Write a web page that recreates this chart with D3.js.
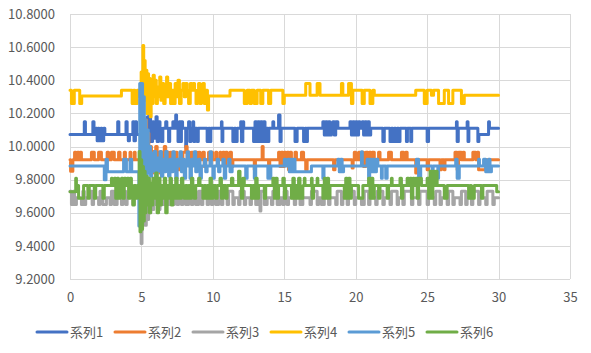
<!DOCTYPE html>
<html>
<head>
    <title></title>
    <meta charset="utf-8" />
    <style>
        body { margin: 0; background: #fff; }
        svg { display: block; }
        text { font-family: "Noto Sans CJK JP", "Noto Sans", sans-serif; }
    </style>
    <script src="https://d3js.org/d3.v7.min.js"></script>
</head>
<body>

<svg id="svg"></svg>

<script>

let seriesNames = ["系列1", "系列2", "系列3", "系列4", "系列5", "系列6"];
let colors = ["#4472C4", "#ED7D31", "#A5A5A5", "#FFC000", "#5B9BD5", "#70AD47"];

let xTicks = [0, 5, 10, 15, 20, 25, 30, 35];
let yTicks = [9.2, 9.4, 9.6, 9.8, 10.0, 10.2, 10.4, 10.6, 10.8];

// each series: [x, value] change points, the value holds until the next x
let s1 = [
    [0,10.073],[1.0,10.15],[1.08,10.073],[1.6,10.15],[1.68,10.073],[1.82,10.11],[1.9,10.035],[1.98,10.11],[2.04,10.035],
    [2.16,10.11],[2.24,10.035],[2.36,10.11],[2.44,10.073],[3.34,10.15],[3.42,10.073],[3.92,10.15],[4.0,10.073],[4.08,10.035],
    [4.16,10.073],[4.4,10.15],[4.48,10.035],[4.58,10.15],[4.66,10.073],
    [4.95,10.16],[5.02,10.05],[5.1,10.18],[5.18,10.03],[5.26,10.16],[5.34,10.05],[5.42,10.18],[5.5,10.03],[5.58,10.23],
    [5.64,10.11],[5.7,10.03],[5.78,10.15],[5.86,10.05],[5.94,10.11],[6.02,10.18],[6.1,10.03],[6.2,10.15],[6.3,10.11],
    [6.4,10.03],[6.5,10.11],[6.7,10.15],[6.78,10.11],[6.9,10.03],[6.98,10.11],[7.2,10.15],[7.28,10.11],[7.4,10.19],
    [7.46,10.11],[7.56,10.03],[7.64,10.15],[7.72,10.03],[7.8,10.15],[7.88,10.11],[8.1,9.995],[8.16,10.11],[8.3,10.15],
    [8.38,10.03],[8.46,10.11],[8.6,10.15],[8.66,10.03],[8.74,10.11],[8.9,10.03],[8.98,10.11],[9.6,10.03],[9.7,10.11],
    [9.78,10.03],[9.86,10.11],[10.6,10.15],[10.64,10.03],[10.7,10.11],[11.4,10.03],[11.5,10.11],[11.6,10.03],[11.7,10.11],
    [11.95,10.15],[12.0,10.03],[12.1,10.15],[12.16,10.11],
    [12.85,10.03],[12.95,10.15],[13.05,10.03],[13.15,10.15],[13.25,10.03],[13.35,10.15],[13.45,10.03],[13.55,10.15],
    [13.65,10.03],[13.75,10.11],[13.85,10.03],[13.92,10.11],[14.2,10.15],[14.26,10.11],[14.6,10.19],[14.7,10.03],[14.78,10.11],
    [15.75,10.03],[15.9,10.11],[16.35,10.03],[16.45,10.11],[16.55,10.03],[16.62,10.11],
    [17.7,10.15],[17.8,10.07],[17.9,10.15],[18.0,10.07],[18.1,10.15],[18.2,10.07],[18.3,10.11],[18.4,10.15],[18.5,10.07],
    [18.6,10.15],[18.75,10.11],
    [19.6,10.15],[19.7,10.07],[19.8,10.15],[19.9,10.07],[20.0,10.15],[20.1,10.07],[20.2,10.15],[20.3,10.11],[20.45,10.15],
    [20.55,10.07],[20.65,10.15],[20.75,10.07],[20.85,10.15],[20.95,10.07],[21.05,10.11],
    [21.9,10.03],[22.0,10.11],[22.4,10.03],[22.5,10.11],[22.6,10.03],[22.7,10.11],[22.8,10.03],[22.9,10.11],[23.0,10.03],
    [23.1,10.11],[23.55,10.03],[23.62,10.11],[23.85,10.03],[23.92,10.11],[25.0,10.03],[25.1,10.11],[27.05,10.15],[27.1,10.03],
    [27.18,10.11],[27.8,10.15],[27.86,10.03],[27.92,10.11],[28.55,10.03],[28.62,10.073],[29.3,10.15],[29.36,10.11],[30,10.11]
];

let s2 = [
    [0,9.92],[0.04,9.85],[0.2,9.92],[0.32,9.965],[0.42,9.92],[0.52,9.965],[0.62,9.92],[0.7,9.965],[0.8,9.92],[1.5,9.965],
    [1.7,9.92],[2.0,9.965],[2.2,9.92],[2.6,9.965],[2.7,9.92],[2.9,9.965],[3.1,9.92],[3.4,9.965],[3.5,9.92],[3.8,9.965],
    [3.88,9.92],[4.2,9.965],[4.26,9.92],[4.5,9.965],[4.56,9.92],
    [5.0,9.88],[5.1,9.98],[5.2,9.86],[5.3,10.16],[5.36,9.90],[5.44,10.08],[5.52,9.86],[5.6,10.0],[5.7,9.84],[5.8,9.97],
    [5.9,9.86],[6.0,10.0],[6.1,9.88],[6.2,9.965],[6.3,9.84],[6.4,9.965],[6.5,9.88],[6.6,10.0],[6.7,9.86],[6.8,9.965],
    [6.9,9.92],[7.0,9.965],[7.1,9.86],[7.2,9.965],[7.3,9.88],[7.4,9.965],[7.5,9.92],[7.6,9.86],[7.7,9.92],[7.9,9.965],
    [8.1,10.0],[8.2,9.92],[8.3,9.965],[8.4,9.88],[8.5,9.965],[8.6,9.92],[8.8,9.965],[8.9,9.88],[9.0,9.965],[9.1,9.92],
    [9.3,9.965],[9.4,9.88],[9.5,9.92],[9.7,9.965],[9.78,9.92],[9.9,9.965],[9.98,9.92],[10.2,9.965],[10.28,9.92],[10.5,9.965],
    [10.56,9.92],[10.7,9.965],[10.8,9.88],[10.9,9.965],[11.0,9.92],[11.2,9.965],[11.3,9.88],[11.4,9.92],
    [12.9,9.86],[12.98,9.92],[13.45,10.0],[13.52,9.92],[13.9,9.84],[13.98,9.92],
    [14.6,9.965],[14.7,9.88],[14.8,9.965],[14.9,9.88],[15.0,9.965],[15.1,9.92],[15.2,9.965],[15.3,9.86],[15.4,9.965],
    [15.5,9.92],[15.75,9.965],[15.85,9.92],[16.2,9.965],[16.35,9.92],[16.5,9.86],[16.6,9.92],
    [18.45,9.86],[18.55,9.92],[19.75,9.87],[19.82,9.92],[19.9,9.965],[20.0,9.92],[20.2,9.965],[20.3,9.92],[20.5,9.965],
    [20.55,9.88],[20.7,9.965],[20.85,9.92],[20.95,9.965],[21.05,9.92],[21.15,9.965],[21.3,9.92],[21.6,9.965],[21.7,9.92],
    [22.3,9.965],[22.5,9.92],[23.2,9.965],[23.35,9.92],[23.5,9.965],[23.6,9.92],[24.2,9.84],[24.3,9.92],[25.0,9.86],
    [25.1,9.92],[25.9,9.86],[26.0,9.92],[26.2,9.86],[26.25,9.92],[26.95,9.965],[27.1,9.86],[27.2,9.965],[27.4,9.92],
    [27.5,9.965],[27.6,9.92],[28.2,9.965],[28.4,9.92],[28.5,9.965],[28.6,9.86],[29.1,9.92],[30,9.92]
];

let s3 = [
    [0,9.73],[0.1,9.65],[0.22,9.73],[0.32,9.65],[0.45,9.69],[0.8,9.65],[0.9,9.73],[1.0,9.65],[1.1,9.69],[1.45,9.73],
    [1.55,9.65],[1.65,9.69],[2.0,9.65],[2.1,9.73],[2.3,9.65],[2.55,9.69],[2.8,9.65],[2.9,9.73],[3.1,9.65],[3.3,9.73],
    [3.4,9.69],[3.6,9.65],[3.7,9.73],[3.9,9.65],[4.0,9.69],[4.4,9.65],[4.5,9.73],[4.7,9.69],
    [4.9,9.60],[4.98,9.415],[5.04,9.70],[5.1,9.54],[5.18,9.74],[5.26,9.525],[5.34,9.72],[5.42,9.56],[5.5,9.70],[5.58,9.60],
    [5.66,9.74],[5.76,9.62],[5.86,9.72],[5.96,9.65],[6.1,9.73],[6.2,9.62],[6.3,9.69],[6.4,9.65],[6.5,9.73],[6.6,9.65],
    [6.8,9.69],[6.9,9.65],[7.0,9.73],[7.2,9.65],[7.3,9.69],[7.5,9.65],[7.6,9.73],[7.8,9.65],[7.9,9.69],[8.1,9.65],
    [8.3,9.73],[8.5,9.65],[8.6,9.69],[8.8,9.65],[9.0,9.73],[9.2,9.65],[9.3,9.69],[9.6,9.65],[9.7,9.73],[9.9,9.65],
    [10.0,9.69],[10.2,9.65],[10.4,9.73],[10.6,9.65],[10.7,9.69],[11.0,9.65],[11.1,9.73],[11.4,9.65],[11.5,9.69],[11.8,9.65],
    [11.9,9.73],[12.2,9.65],[12.3,9.69],[12.6,9.65],[12.7,9.73],[13.0,9.65],[13.2,9.69],[13.3,9.61],[13.36,9.73],[13.6,9.65],
    [13.8,9.69],[14.1,9.65],[14.2,9.73],[14.5,9.65],[14.7,9.69],[14.9,9.65],[15.0,9.73],[15.2,9.65],[15.3,9.69],[15.7,9.65],
    [15.8,9.73],[16.1,9.65],[16.3,9.69],[16.8,9.65],[16.9,9.73],[17.3,9.65],[17.4,9.69],[17.6,9.65],[17.8,9.73],[18.1,9.65],
    [18.2,9.69],[18.6,9.65],[18.7,9.73],[19.0,9.65],[19.1,9.69],[19.4,9.65],[19.5,9.73],[19.9,9.65],[20.0,9.69],[20.4,9.65],
    [20.6,9.73],[20.9,9.65],[21.0,9.69],[21.4,9.65],[21.5,9.73],[21.9,9.65],[22.0,9.69],[22.4,9.65],[22.5,9.73],[22.9,9.65],
    [23.0,9.69],[23.3,9.65],[23.4,9.73],[23.9,9.65],[24.0,9.69],[24.4,9.65],[24.5,9.73],[25.0,9.65],[25.1,9.69],[25.5,9.65],
    [25.6,9.73],[25.9,9.65],[26.0,9.69],[26.4,9.65],[26.5,9.73],[26.8,9.65],[26.9,9.69],[27.3,9.65],[27.4,9.73],[27.7,9.65],
    [27.8,9.69],[28.1,9.65],[28.2,9.73],[28.6,9.65],[28.7,9.69],[29.1,9.65],[29.2,9.73],[29.6,9.65],[29.7,9.69],[30,9.69]
];

let s4 = [
    [0,10.34],[0.1,10.26],[0.3,10.34],[0.68,10.26],[0.82,10.305],[3.6,10.34],[4.35,10.26],[4.45,10.34],[4.55,10.26],[4.7,10.34],
    [4.9,10.30],[4.98,10.45],[5.04,10.22],[5.1,10.61],[5.16,10.35],[5.2,10.52],[5.26,10.28],[5.32,10.46],[5.38,10.20],
    [5.44,10.44],[5.5,10.24],[5.56,10.41],[5.62,10.18],[5.68,10.38],[5.76,10.26],[5.82,10.43],[5.9,10.30],[5.96,10.40],
    [6.04,10.26],[6.12,10.36],[6.2,10.30],[6.28,10.42],[6.36,10.28],[6.46,10.38],[6.56,10.26],[6.66,10.34],[6.76,10.42],
    [6.84,10.30],[6.94,10.38],[7.04,10.26],[7.14,10.34],[7.24,10.26],[7.36,10.38],[7.46,10.30],[7.56,10.40],[7.66,10.26],
    [7.78,10.34],[7.9,10.38],[8.0,10.30],[8.1,10.38],[8.2,10.34],[8.3,10.26],[8.42,10.38],[8.52,10.34],[8.62,10.38],
    [8.72,10.34],[8.82,10.26],[8.92,10.34],[9.0,10.38],[9.1,10.26],[9.2,10.34],[9.3,10.38],[9.4,10.26],[9.5,10.34],
    [9.62,10.22],[9.7,10.305],
    [11.2,10.34],[12.2,10.26],[12.4,10.34],[12.6,10.26],[12.7,10.34],[12.9,10.26],[13.1,10.34],[13.35,10.26],[13.5,10.34],
    [13.9,10.26],[14.05,10.34],[14.9,10.26],[15.0,10.31],[16.5,10.38],[16.8,10.31],[17.3,10.38],[17.5,10.31],[19.0,10.38],
    [19.1,10.31],[19.5,10.38],[19.7,10.26],[19.8,10.34],[20.45,10.26],[20.6,10.34],[21.0,10.26],[21.2,10.34],[21.3,10.31],
    [24.2,10.34],[24.8,10.26],[25.0,10.34],[25.3,10.31],[25.45,10.34],[25.8,10.26],[26.2,10.34],[26.5,10.26],[26.8,10.34],
    [27.4,10.26],[27.6,10.31],[30,10.31]
];

let s5 = [
    [0,9.882],[2.4,9.80],[2.52,9.923],[2.62,9.848],[3.75,9.923],[3.95,9.848],[4.2,9.923],[4.32,9.848],
    [4.82,9.52],[4.88,10.38],[4.96,9.60],[5.02,10.38],[5.08,9.70],[5.14,10.30],[5.2,9.82],[5.26,10.16],[5.32,9.82],
    [5.4,10.10],[5.48,9.84],[5.56,10.0],[5.64,9.82],[5.72,9.96],[5.8,9.85],[5.9,9.97],[6.0,9.82],[6.1,9.93],[6.2,9.85],
    [6.3,9.97],[6.4,9.82],[6.5,9.923],[6.6,9.848],[6.7,9.97],[6.8,9.882],[6.9,9.82],[7.0,9.923],[7.1,9.848],[7.2,9.968],
    [7.3,9.882],[7.4,9.808],[7.5,9.923],[7.6,9.882],[7.7,9.968],[7.8,9.848],[7.9,9.923],[8.0,9.808],[8.1,9.882],[8.2,9.968],
    [8.3,9.882],[8.4,9.808],[8.5,9.923],[8.6,9.882],[8.7,9.968],[8.8,9.848],[8.9,9.882],[9.0,9.923],[9.1,9.808],[9.2,9.882],
    [9.4,9.923],[9.5,9.848],[9.6,9.882],[9.8,9.968],[9.9,9.882],[10.0,9.808],[10.1,9.882],[10.3,9.923],[10.4,9.848],
    [10.5,9.882],[10.7,9.923],[10.8,9.808],[10.9,9.882],[11.1,9.923],[11.2,9.848],[11.35,9.882],
    [12.3,9.808],[12.4,9.882],[12.9,9.808],[13.0,9.882],[13.85,9.808],[13.92,9.882],[14.0,9.808],[14.06,9.882],[15.0,9.923],
    [15.1,9.882],[15.25,9.923],[15.35,9.848],[15.45,9.923],[15.55,9.848],[15.65,9.923],[15.75,9.848],[16.9,9.882],[17.7,9.808],
    [17.78,9.882],[18.75,9.923],[18.85,9.848],[18.95,9.923],[19.05,9.848],[19.15,9.882],[20.4,9.968],[20.46,9.882],
    [20.8,9.923],[20.9,9.808],[20.98,9.923],[21.1,9.848],[21.2,9.923],[21.3,9.848],[21.45,9.923],[21.55,9.882],[21.8,9.808],
    [21.86,9.882],[22.1,9.808],[22.2,9.882],[24.25,9.923],[24.4,9.808],[24.55,9.882],[25.35,9.808],[25.42,9.882],[25.75,9.808],
    [25.8,9.882],[27.0,9.923],[27.1,9.808],[27.25,9.882],[28.6,9.923],[28.66,9.882],[28.95,9.923],[29.1,9.848],[29.3,9.923],
    [29.4,9.848],[29.5,9.882],[30,9.882]
];

let s6 = [
    [0,9.727],[0.4,9.808],[0.45,9.765],[0.6,9.687],[0.95,9.765],[1.25,9.687],[1.35,9.765],[1.7,9.687],[1.8,9.765],[2.3,9.687],
    [2.4,9.765],[2.9,9.808],[2.96,9.765],[3.1,9.808],[3.2,9.687],[3.3,9.808],[3.4,9.687],[3.5,9.765],[3.6,9.808],[3.7,9.687],
    [3.8,9.808],[3.9,9.765],[4.0,9.808],[4.1,9.687],[4.2,9.808],[4.3,9.765],[4.4,9.647],[4.5,9.765],[4.6,9.687],[4.7,9.765],
    [4.84,9.97],[4.9,9.486],[4.96,9.92],[5.02,9.50],[5.08,9.88],[5.14,9.55],[5.2,9.85],[5.26,9.60],[5.32,9.82],[5.4,9.647],
    [5.48,9.808],[5.56,9.60],[5.64,9.78],[5.72,9.647],[5.8,9.808],[5.9,9.687],[6.0,9.84],[6.1,9.60],[6.2,9.808],[6.3,9.647],
    [6.4,9.765],[6.5,9.687],[6.6,9.808],[6.7,9.60],[6.8,9.765],[6.9,9.687],[7.0,9.808],[7.1,9.647],[7.2,9.765],[7.3,9.687],
    [7.4,9.808],[7.5,9.687],[7.6,9.765],[7.7,9.687],[7.8,9.808],[7.9,9.765],[8.0,9.687],[8.1,9.765],[8.2,9.687],[8.3,9.765],
    [8.4,9.687],[8.5,9.808],[8.6,9.765],[8.7,9.687],[8.8,9.765],[9.0,9.808],[9.1,9.765],[9.3,9.687],[9.4,9.765],[9.5,9.687],
    [9.6,9.765],[9.7,9.687],[9.8,9.808],[9.9,9.687],[10.0,9.765],[10.2,9.687],[10.3,9.765],[10.5,9.808],[10.6,9.687],
    [10.7,9.765],[10.9,9.687],[11.0,9.765],[11.3,9.808],[11.4,9.765],
    [11.8,9.85],[11.9,9.765],[12.0,9.687],[12.1,9.808],[12.2,9.765],[12.7,9.687],[12.8,9.765],[12.9,9.687],[13.0,9.808],
    [13.1,9.687],[13.2,9.765],[13.6,9.687],[13.7,9.765],[14.2,9.808],[14.3,9.687],[14.4,9.808],[14.5,9.687],[14.6,9.765],
    [14.9,9.808],[15.0,9.687],[15.1,9.765],[15.5,9.687],[15.6,9.808],[15.7,9.687],[15.8,9.765],[15.9,9.687],[16.0,9.808],
    [16.1,9.687],[16.3,9.765],[16.4,9.808],[16.45,9.765],[16.9,9.808],[16.95,9.687],[17.05,9.765],[17.3,9.808],[17.35,9.765],
    [17.7,9.687],[17.8,9.808],[17.9,9.687],[18.0,9.808],[18.1,9.687],[18.2,9.765],[19.2,9.687],[19.3,9.808],[19.4,9.687],
    [19.5,9.808],[19.6,9.687],[19.7,9.765],[20.2,9.687],[20.5,9.765],[20.9,9.808],[21.0,9.687],[21.1,9.808],[21.2,9.687],
    [21.3,9.765],[21.6,9.687],[21.7,9.765],[22.2,9.687],[22.3,9.765],[22.5,9.808],[22.55,9.765],[23.1,9.808],[23.2,9.687],
    [23.3,9.765],[23.6,9.808],[23.7,9.765],[23.8,9.808],[23.9,9.687],[24.0,9.808],[24.1,9.765],[24.2,9.808],[24.3,9.687],
    [24.4,9.808],[24.6,9.765],[25.0,9.808],[25.1,9.687],[25.2,9.85],[25.3,9.687],[25.4,9.85],[25.5,9.765],[25.6,9.85],
    [25.7,9.765],[26.2,9.687],[26.4,9.765],[27.9,9.687],[28.0,9.765],[28.1,9.687],[28.3,9.765],[28.8,9.687],[28.9,9.765],
    [29.87,9.727],[30,9.727]
];

let allSeries = [s1, s2, s3, s4, s5, s6];

let realW = 591;
let realH = 353;

let svg = d3.select("#svg")
    .attr("width", realW)
    .attr("height", realH);

let x = d3.scaleLinear().domain([0, 35]).range([70, 570]);
let y = d3.scaleLinear().domain([9.2, 10.8]).range([279, 14]);

// horizontal grid + y labels
let gY = svg.append("g")
    .attr("transform", "translate(70,0)")
    .call(d3.axisLeft(y).tickValues(yTicks).tickSize(-500).tickPadding(15).tickFormat(d3.format(".4f")));
gY.select(".domain").remove();

// vertical grid + x labels
let gX = svg.append("g")
    .attr("transform", "translate(0,279)")
    .call(d3.axisBottom(x).tickValues(xTicks).tickSize(-265).tickPadding(14));
gX.select(".domain").remove();

svg.selectAll(".tick line")
    .attr("stroke", "#D9D9D9")
    .attr("stroke-width", 1)
    .attr("shape-rendering", "crispEdges");

svg.selectAll(".tick text")
    .attr("fill", "#595959")
    .style("font-size", "13px")
    .style("font-family", "'Noto Sans CJK JP', 'Noto Sans', sans-serif");

let line = d3.line()
    .x(d => x(d[0]))
    .y(d => y(d[1]))
    .curve(d3.curveStepAfter);

svg.selectAll(".series")
    .data(allSeries)
    .enter()
    .append("path")
    .attr("class", "series")
    .attr("d", d => line(d))
    .attr("fill", "none")
    .attr("stroke", (d, i) => colors[i])
    .attr("stroke-width", 3)
    .attr("stroke-linejoin", "round")
    .attr("stroke-linecap", "round");

// legend
let legend = svg.selectAll(".legend")
    .data(seriesNames)
    .enter()
    .append("g")
    .attr("class", "legend")
    .attr("transform", (d, i) => "translate(" + (37 + i * 78) + ",332)");

legend.append("line")
    .attr("x1", 0).attr("x2", 30)
    .attr("y1", 0).attr("y2", 0)
    .attr("stroke", (d, i) => colors[i])
    .attr("stroke-width", 3)
    .attr("stroke-linecap", "round");

legend.append("text")
    .attr("x", 33)
    .attr("y", 0)
    .attr("dy", "0.35em")
    .attr("fill", "#595959")
    .style("font-size", "13px")
    .text(d => d);

</script>

</body>
</html>
